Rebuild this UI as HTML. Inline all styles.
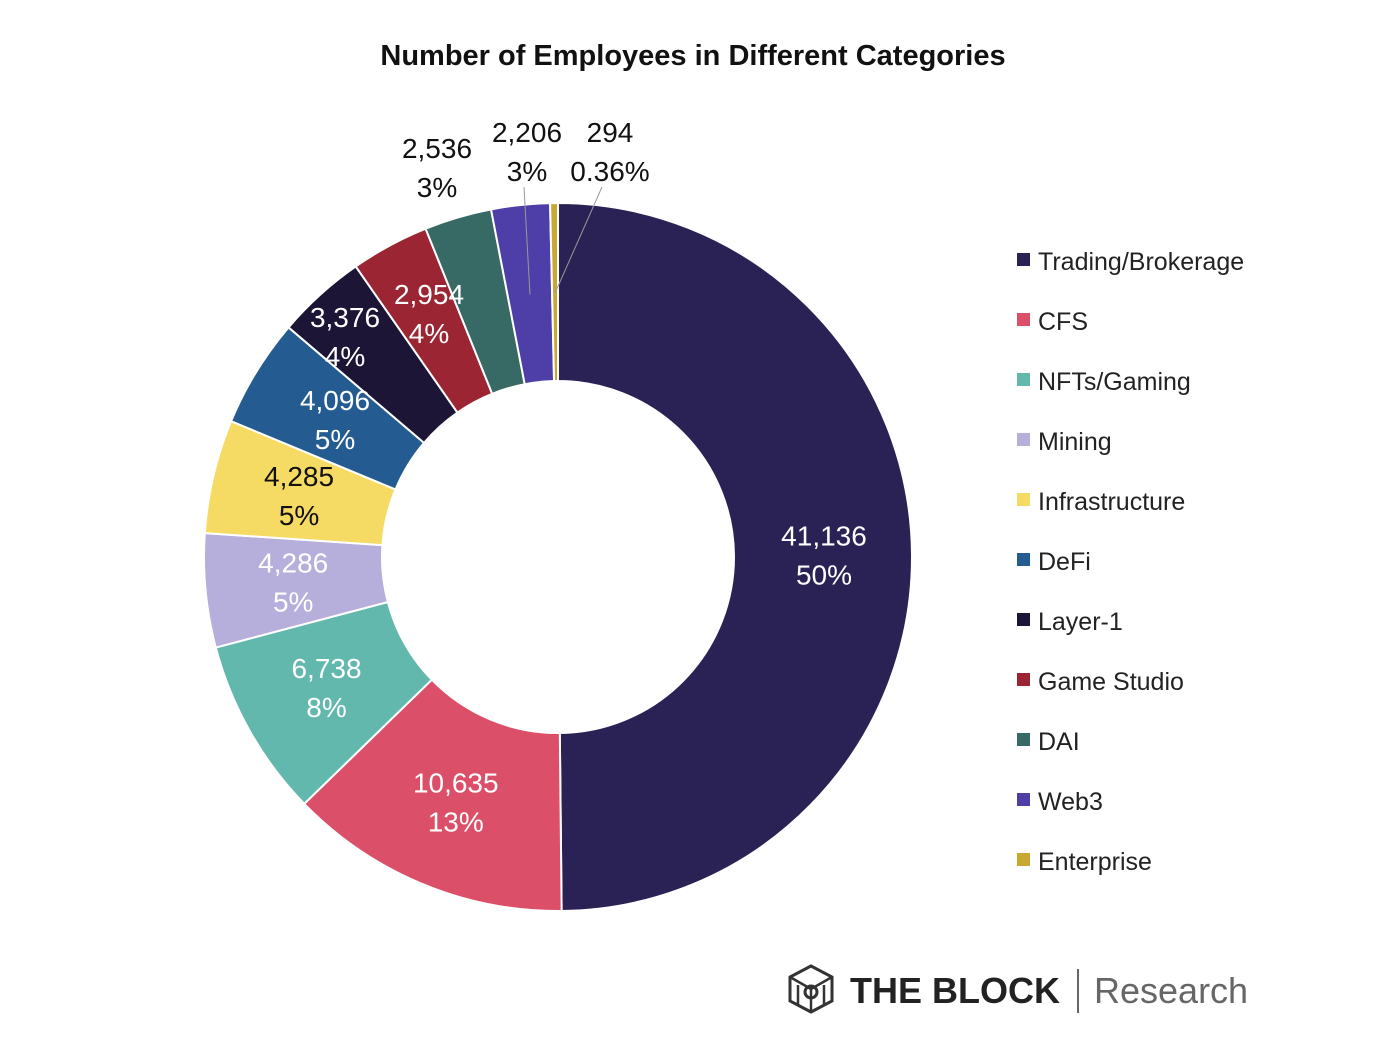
<!DOCTYPE html>
<html><head><meta charset="utf-8"><style>
body{margin:0;background:#fff;width:1378px;height:1060px;overflow:hidden;font-family:"Liberation Sans",sans-serif}
svg{position:absolute;left:0;top:0}
</style></head><body>
<svg id="chart" width="1378" height="1060">
<text x="693" y="65" text-anchor="middle" font-size="29" font-weight="bold" fill="#111">Number of Employees in Different Categories</text>
<g id="slices"></g><g id="labels"></g><g id="legend"></g>
<g transform="translate(788,965)">
<polygon points="23,1 44,12 44,36 23,47 2,36 2,12" fill="none" stroke="#333" stroke-width="3"/>
<path d="M2,12 L23,24 L44,12 M23,24 L23,47 M10,20 L10,40 M36,20 L36,40" fill="none" stroke="#333" stroke-width="2.5"/>
<circle cx="23" cy="27" r="6" fill="none" stroke="#333" stroke-width="3"/>
<text x="62" y="38" font-size="36" font-weight="bold" fill="#222">THE BLOCK</text>
<line x1="290" y1="4" x2="290" y2="48" stroke="#666" stroke-width="2"/>
<text x="306" y="38" font-size="36" fill="#666">Research</text>
</g>
</svg>
<script>
const categories=["Trading/Brokerage","CFS","NFTs/Gaming","Mining","Infrastructure","DeFi","Layer-1","Game Studio","DAI","Web3","Enterprise"];
const values=[41136,10635,6738,4286,4285,4096,3376,2954,2536,2206,294];
const percents=["50%","13%","8%","5%","5%","5%","4%","4%","3%","3%","0.36%"];
const colors=["#2a2255","#dc4f68","#63b8ae","#b6aedb","#f5db63","#245b91","#1c1535","#9b2533","#376a64","#4e3fa8","#c8a830"];
const NS="http://www.w3.org/2000/svg";
const cx=558,cy=557,R=354,r=176;
const total=values.reduce((a,b)=>a+b,0);
function pt(a,rad){return [cx+rad*Math.sin(a),cy-rad*Math.cos(a)];}
function mk(tag,attrs,parent){const e=document.createElementNS(NS,tag);for(const k in attrs)e.setAttribute(k,attrs[k]);parent.appendChild(e);return e;}
const gs=document.getElementById('slices'),gl=document.getElementById('labels'),gg=document.getElementById('legend');
let acc=0;
const outside={8:[437,148],9:[527,132],10:[610,132]};
const inside={5:[335,400],6:[345,317],7:[429,294]};
values.forEach((v,i)=>{
 const a0=acc/total*2*Math.PI;acc+=v;const a1=acc/total*2*Math.PI;
 const large=(a1-a0)>Math.PI?1:0;
 const [x0,y0]=pt(a0,R),[x1,y1]=pt(a1,R),[x2,y2]=pt(a1,r),[x3,y3]=pt(a0,r);
 const p=mk('path',{d:`M${x0},${y0}A${R},${R} 0 ${large} 1 ${x1},${y1}L${x2},${y2}A${r},${r} 0 ${large} 0 ${x3},${y3}Z`,fill:colors[i],stroke:'#fff','stroke-width':2},gs);
 
 
 const am=(a0+a1)/2;
 let lx,ly,fill;
 if(outside[i]){[lx,ly]=outside[i];fill='#111';
  if(i>=9){
   const [px,py]=pt(am,R-90);
   const ln=mk('line',{x1:px,y1:py,x2:lx+(i==10?-8:-3),y2:ly+55,stroke:'#999','stroke-width':1},gl);
   
   
  }
 } else if(inside[i]){[lx,ly]=inside[i];fill='#fff';}
 else {[lx,ly]=pt(am,266);ly-=20;fill=(i==4)?'#111':'#fff';}
 const t=mk('text',{x:lx,y:ly+10,'text-anchor':'middle','font-size':28,fill:fill},gl);
 
 
 t.textContent=v.toLocaleString('en-US');
 const t2=mk('text',{x:lx,y:ly+49,'text-anchor':'middle','font-size':28,fill:fill},gl);
 
 
 t2.textContent=percents[i];
 const ly2=261+i*60;
 const g=mk('g',{},gg);
 
 
 mk('rect',{x:1017,y:ly2-8,width:13,height:13,fill:colors[i]},g);
 const lt=mk('text',{x:1038,y:ly2+9,'font-size':25,fill:'#222'},g);
 lt.textContent=categories[i];
});
</script>
</body></html>
